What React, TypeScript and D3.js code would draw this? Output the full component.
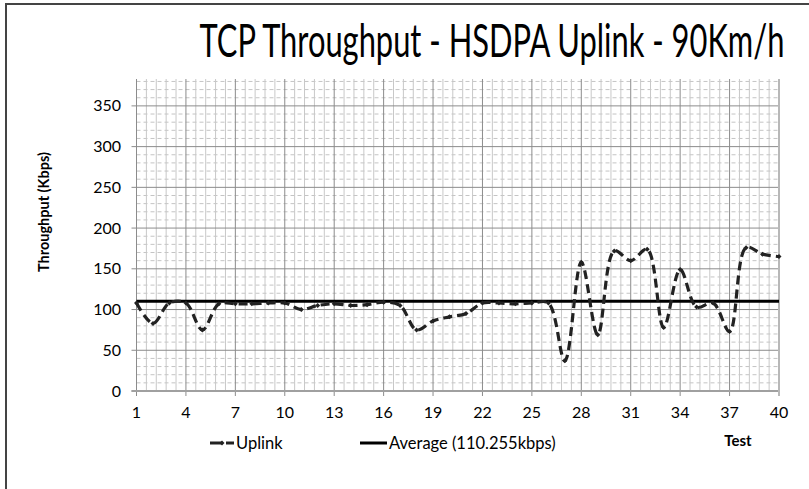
import React, { useEffect, useRef, useState } from "react";
import * as d3 from "d3";

const tests: number[] = d3.range(1, 41);
const uplink: number[] = [108, 83, 108, 108, 75, 107, 107, 107, 108, 108, 100, 105, 107, 105, 106, 109, 105, 75, 86, 91, 95, 108, 108, 107, 108, 108, 37, 158, 69, 172, 160, 174, 78, 149, 103, 108, 73, 176, 168, 165];
const average = 110.255;
const yTicks: number[] = [0, 50, 100, 150, 200, 250, 300, 350];
const xTickLabels: number[] = [1, 4, 7, 10, 13, 16, 19, 22, 25, 28, 31, 34, 37, 40];
const title = "TCP Throughput - HSDPA Uplink - 90Km/h";
const yLabel = "Throughput (Kbps)";
const xLabel = "Test";
const legendUplink = "Uplink";
const legendAverage = "Average (110.255kbps)";

export default function App() {
  const W = 809, H = 489;
  const left = 136.5, right = 779, top = 79, bottom = 391;
  const x = d3.scaleLinear().domain([1, 40]).range([left, right]);
  const y = d3.scaleLinear().domain([0, 383]).range([bottom, top]);
  const font = "Lato, 'Open Sans', sans-serif";

  const titleRef = useRef<SVGTextElement>(null);
  const [titleScale, setTitleScale] = useState(1);
  useEffect(() => {
    if (titleRef.current) {
      const len = titleRef.current.getComputedTextLength();
      if (len > 0) setTitleScale(585 / len);
    }
  }, []);

  const minorY = d3.range(0, 381, 10).filter((v) => v % 50 !== 0);
  const minorX = d3.range(1, 40.001, 0.6).filter((_, i) => i % 5 !== 0);

  const line = d3
    .line<number>()
    .x((_, i) => x(tests[i]))
    .y((d) => y(d))
    .curve(d3.curveCatmullRom.alpha(0.5));

  const diamond = (cx: number, cy: number, s: number) =>
    `M${cx},${cy - s}L${cx + s},${cy}L${cx},${cy + s}L${cx - s},${cy}Z`;

  return (
    <svg width={W} height={H} style={{ position: "absolute", left: 0, top: 0, background: "#fff" }}>
      <rect x={0} y={0} width={W} height={H} fill="#fff" />
      <rect x={6} y={4} width={W + 10} height={H + 10} fill="none" stroke="#444" strokeWidth={2} />
      <g transform={`translate(492,57) scale(${titleScale},1)`}>
        <text ref={titleRef} x={0} y={0} textAnchor="middle" fontFamily={font} fontSize={46} fill="#000">
          {title}
        </text>
      </g>
      {minorY.map((v) => (
        <line key={"my" + v} x1={left} x2={right} y1={y(v)} y2={y(v)} stroke="#c4c4c4" strokeWidth={1} strokeDasharray="4,3" />
      ))}
      {minorX.map((v) => (
        <line key={"mx" + v} x1={x(v)} x2={x(v)} y1={top} y2={bottom} stroke="#c8c8c8" strokeWidth={1} />
      ))}
      {yTicks.map((v) => (
        <line key={"gy" + v} x1={left - 5} x2={right} y1={y(v)} y2={y(v)} stroke="#8c8c8c" strokeWidth={1} />
      ))}
      {xTickLabels.map((v) => (
        <line key={"gx" + v} x1={x(v)} x2={x(v)} y1={top} y2={bottom + 5} stroke="#8c8c8c" strokeWidth={1} />
      ))}
      <line x1={left - 5} x2={right} y1={bottom} y2={bottom} stroke="#a0a0a0" strokeWidth={2} />
      <line x1={right} x2={right} y1={top} y2={bottom + 5} stroke="#b8b8b8" strokeWidth={2} />
      {yTicks.map((v) => (
        <text key={"yl" + v} x={121} y={y(v)} dy="0.35em" textAnchor="end" fontFamily={font} fontSize={16} fill="#000">
          {v}
        </text>
      ))}
      {xTickLabels.map((v) => (
        <text key={"xl" + v} x={x(v)} y={418} textAnchor="middle" fontFamily={font} fontSize={16} fill="#000">
          {v}
        </text>
      ))}
      <text transform={`translate(49,212) rotate(-90)`} textAnchor="middle" fontFamily={font} fontWeight="bold" fontSize={14.5} fill="#000">
        {yLabel}
      </text>
      <line x1={x(1)} x2={x(40)} y1={y(average)} y2={y(average)} stroke="#000" strokeWidth={3} />
      <path d={line(uplink) || ""} fill="none" stroke="#222" strokeWidth={3.2} strokeDasharray="9,5" />
      {uplink.map((v, i) => (
        <path key={"m" + i} d={diamond(x(tests[i]), y(v), 2.5)} fill="#222" />
      ))}
      <line x1={210} x2={234} y1={443} y2={443} stroke="#222" strokeWidth={3} strokeDasharray="12,4" />
      <path d={diamond(222, 443, 2.5)} fill="#222" />
      <text x={236} y={448.5} fontFamily={font} fontSize={16.5} fill="#000">{legendUplink}</text>
      <line x1={360} x2={387} y1={443} y2={443} stroke="#000" strokeWidth={3} />
      <text x={389} y={448.5} fontFamily={font} fontSize={16.5} fill="#000">{legendAverage}</text>
      <text x={738} y={446} textAnchor="middle" fontFamily={font} fontWeight="bold" fontSize={15} fill="#000">{xLabel}</text>
    </svg>
  );
}
